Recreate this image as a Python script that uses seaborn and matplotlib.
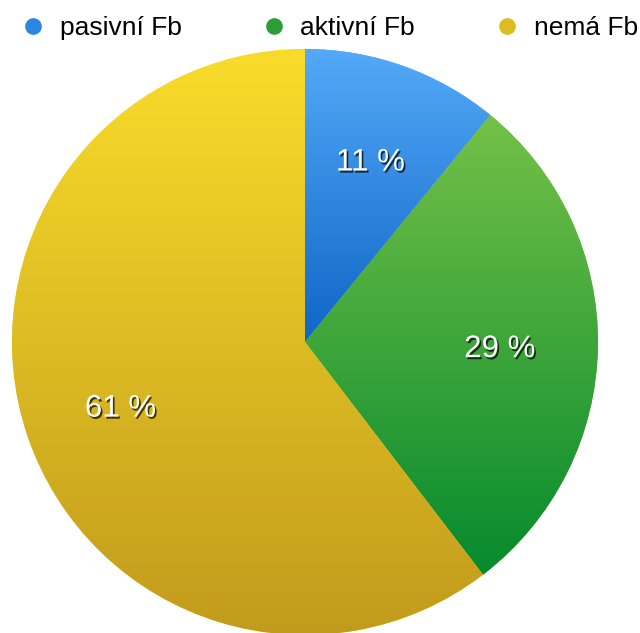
import numpy as np
import matplotlib
matplotlib.use("Agg")
import matplotlib.pyplot as plt
import matplotlib.patheffects as pe
from matplotlib.colors import LinearSegmentedColormap
from matplotlib.lines import Line2D
import seaborn as sns

# Data
labels = ["pasivní Fb", "aktivní Fb", "nemá Fb"]
values = [11, 29, 61]
pct_text = ["11 %", "29 %", "61 %"]

# gradient (top, bottom) per wedge
top_colors = ["#54a9f8", "#74c147", "#f9dc2b"]
bottom_colors = ["#0e66c6", "#068a2e", "#c29b1c"]
legend_colors = ["#2a86e0", "#2f9d35", "#dcbc22"]

sns.set_theme(style="white")
plt.rcParams["font.family"] = ["Liberation Sans", "DejaVu Sans"]

fig = plt.figure(figsize=(6.4, 6.33), dpi=100)
W, H = 640, 633
cx, cy, r = 305, 342, 293
ax = fig.add_axes([(cx - r) / W, (H - cy - r) / H, 2 * r / W, 2 * r / H])

wedges, _ = ax.pie(values, startangle=90, counterclock=False,
                   colors=top_colors, radius=1.0,
                   wedgeprops=dict(linewidth=0))

shadow = [pe.withSimplePatchShadow(offset=(1.2, -1.5), shadow_rgbFace="black", alpha=0.7)]

total = sum(values)
angle = 90.0
for w, top, bot, txt, v in zip(wedges, top_colors, bottom_colors, pct_text, values):
    # vertical gradient clipped to the wedge
    th = np.linspace(np.deg2rad(w.theta1), np.deg2rad(w.theta2), 100)
    ys = np.concatenate([[0], np.sin(th)])
    y0, y1 = ys.min(), ys.max()
    cmap = LinearSegmentedColormap.from_list("g", [bot, top])
    grad = np.linspace(0, 1, 256).reshape(-1, 1)
    im = ax.imshow(grad, cmap=cmap, origin="lower", aspect="auto",
                   extent=(-1, 1, y0, y1), interpolation="bicubic", zorder=2)
    im.set_clip_path(w)

    span = v / total * 360
    mid = np.deg2rad(angle - span / 2)
    angle -= span
    ax.text(0.665 * np.cos(mid), 0.665 * np.sin(mid) - 0.014, txt, ha="center", va="center",
            fontsize=22.5, color="white", zorder=5, path_effects=shadow)

ax.set_xlim(-1, 1)
ax.set_ylim(-1, 1)
ax.set_aspect("auto")
ax.axis("off")

handles = [Line2D([0], [0], marker="o", linestyle="", markersize=12,
                  markerfacecolor=c, markeredgewidth=0) for c in legend_colors]
fig.legend(handles, labels, loc="center left", bbox_to_anchor=(20 / W, 1 - 28 / H),
           ncol=3, frameon=False, fontsize=19, handletextpad=0.5,
           columnspacing=3.0, handlelength=1.0, borderaxespad=0, borderpad=0,
           labelcolor="black")

fig.savefig("out.png", dpi=100)
